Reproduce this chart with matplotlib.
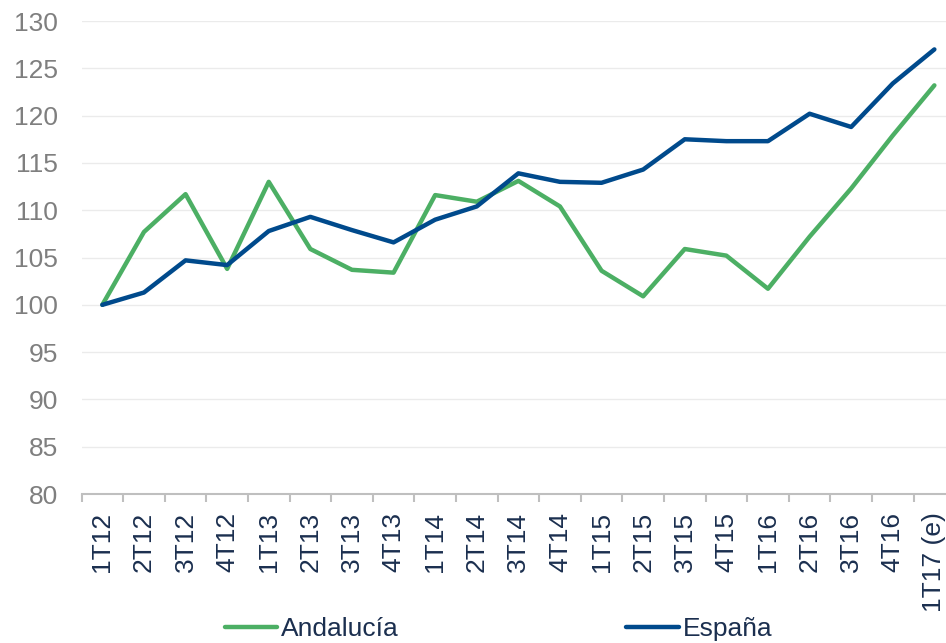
import matplotlib.pyplot as plt
import numpy as np

plt.rcParams['font.family'] = ['Liberation Sans', 'DejaVu Sans']

# Trimestres
trimestres = ["1T12", "2T12", "3T12", "4T12", "1T13", "2T13", "3T13", "4T13",
              "1T14", "2T14", "3T14", "4T14", "1T15", "2T15", "3T15", "4T15",
              "1T16", "2T16", "3T16", "4T16", "1T17 (e)"]

# Índices (1T12 = 100)
andalucia = [100, 107.7, 111.7, 103.8, 113.0, 105.9, 103.7, 103.4,
             111.6, 110.9, 113.1, 110.4, 103.6, 100.9, 105.9, 105.2,
             101.7, 107.2, 112.3, 117.9, 123.2]
espana = [100, 101.3, 104.7, 104.2, 107.8, 109.3, 107.9, 106.6,
          109.0, 110.4, 113.9, 113.0, 112.9, 114.3, 117.5, 117.3,
          117.3, 120.2, 118.8, 123.4, 127.0]

verde = "#4CAF64"
azul = "#004A8C"
texto = "#1B2F4F"

fig = plt.figure(figsize=(9.46, 6.43), dpi=100)
ax = fig.add_axes([0.0862, 0.2317, 0.9235, 0.7356])

x = np.arange(len(trimestres))
ax.plot(x, andalucia, color=verde, lw=3.2, label="Andalucía", solid_capstyle='round')
ax.plot(x, espana, color=azul, lw=3.2, label="España", solid_capstyle='round')

ax.set_xlim(-0.5, len(trimestres) - 0.5)
ax.set_ylim(80, 130)
ax.set_yticks(np.arange(80, 131, 5))
ax.grid(axis='y', color='#EBEBEB', lw=1)
ax.set_axisbelow(True)

for s in ['left', 'right', 'top']:
    ax.spines[s].set_visible(False)
ax.spines['bottom'].set_color('#BFBFBF')
ax.spines['bottom'].set_linewidth(1.5)

ax.set_xticks(x)
ax.set_xticklabels(trimestres, rotation=90, fontsize=19, color=texto)
ax.tick_params(axis='x', which='major', length=0, pad=13)
ax.set_xticks(np.arange(-0.5, len(trimestres), 1), minor=True)
ax.tick_params(axis='x', which='minor', length=6, width=1.5, color='#BFBFBF', direction='out')
ax.tick_params(axis='y', length=0, pad=17, labelsize=19, labelcolor='#7F7F7F')

fig.legend(loc='center', bbox_to_anchor=(0.527, 0.022), ncol=2, frameon=False,
           fontsize=19, labelcolor=texto, handlelength=2.0, handletextpad=0.15,
           columnspacing=8.6, borderaxespad=0)

fig.savefig("out.png", dpi=100)
